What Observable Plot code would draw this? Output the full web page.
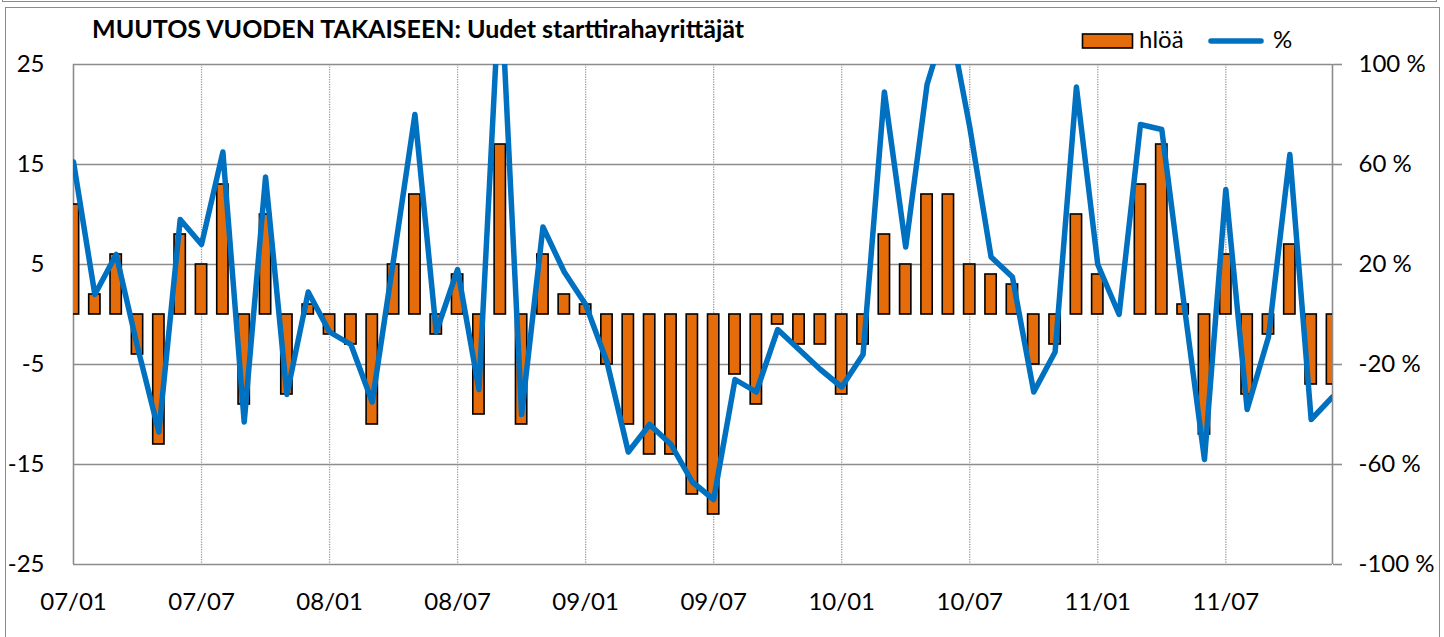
<!DOCTYPE html>
<html>
<head>
<meta charset="utf-8">
<script src="https://cdn.jsdelivr.net/npm/d3@7"></script>
<script src="https://cdn.jsdelivr.net/npm/@observablehq/plot@0.6"></script>
<style>
  html, body { margin: 0; padding: 0; background: #fff; }
  #wrap { position: relative; width: 1444px; height: 637px; overflow: hidden; background: #fff; font-family: Lato, "Open Sans", sans-serif; }
  #boxAbove { position: absolute; left: 2px; top: -12px; width: 1435px; height: 14px; border: 1px solid #8c8c8c; box-sizing: border-box; }
  #frame { position: absolute; left: 5px; top: 7px; width: 1435px; height: 660px; border: 1px solid #8c8c8c; box-sizing: border-box; }
  #chart { position: absolute; left: 0; top: 0; }
  #overlay { position: absolute; left: 0; top: 0; }
</style>
</head>
<body>
<div id="wrap">
  <div id="boxAbove"></div>
  <div id="frame"></div>
  <div id="chart"></div>
  <svg id="overlay" width="1444" height="80"></svg>
</div>
<script>
// ---- data ----
// monthly change vs. a year earlier, 2007/01 .. 2011/12
const hloa = [11, 2, 6, -4, -13, 8, 5, 13, -9, 10,
              -8, 1, -2, -3, -11, 5, 12, -2, 4, -10,
              17, -11, 6, 2, 1, -5, -11, -14, -14, -18,
              -20, -6, -9, -1, -3, -3, -8, -3, 8, 5,
              12, 12, 5, 4, 3, -5, -3, 10, 4, 0,
              13, 17, 1, -12, 6, -8, -2, 7, -7, -7];
const pct = [61, 8, 24, -13, -47, 38, 28, 65, -43, 55,
             -32, 9, -7, -12, -35, 22, 80, -7, 18, -30,
             136, -40, 35, 17, 4, -19, -55, -44, -52, -67,
             -74, -26, -31, -6, -14, -22, -29, -16, 89, 27,
             92, 120, 75, 23, 15, -31, -15, 91, 20, 0,
             76, 74, 7, -58, 50, -38, -9, 64, -42, -33];
const xTickLabels = ["07/01", "07/07", "08/01", "08/07", "09/01", "09/07", "10/01", "10/07", "11/01", "11/07"];
const leftTicks = [-25, -15, -5, 5, 15, 25];
const leftTickLabels = ["-25", "-15", "-5", "5", "15", "25"];
const rightTickLabels = ["-100 %", "-60 %", "-20 %", "20 %", "60 %", "100 %"];
const titleText = "MUUTOS VUODEN TAKAISEEN: Uudet starttirahayrittäjät";
const seriesNames = ["hlöä", "%"];

// ---- build table ----
const data = hloa.map((v, i) => ({i, hloa: v, pct: pct[i]}));
const xTicks = xTickLabels.map((_, k) => k * 6);
const pctToLeft = 25 / 100; // secondary axis: 100 % <-> 25

const ORANGE = "#E46C0A", BLUE = "#0070C0", GRID = "#8c8c8c";

const chart = Plot.plot({
  width: 1444,
  height: 637,
  marginLeft: 73,
  marginRight: 112,
  marginTop: 64,
  marginBottom: 73,
  style: {fontFamily: "Lato, sans-serif", fontSize: "24px", color: "#000", background: "transparent", overflow: "visible"},
  x: {type: "linear", domain: [0, hloa.length - 1], label: null},
  y: {domain: [-25, 25], label: null},
  marks: [
    Plot.gridX(xTicks.slice(1), {stroke: "#999", strokeOpacity: 1, strokeWidth: 1.3, strokeDasharray: "1.2,1.3"}),
    Plot.gridY(leftTicks, {stroke: GRID, strokeOpacity: 1, strokeWidth: 1.6}),
    Plot.ruleX([0, hloa.length - 1], {stroke: GRID, strokeWidth: 1.6}),
    Plot.rect(data, {
      x1: d => d.i - 0.265, x2: d => d.i + 0.265,
      y1: 0, y2: "hloa",
      fill: ORANGE, stroke: "#000", strokeWidth: 1.6, clip: true
    }),
    Plot.line(data, {x: "i", y: d => d.pct * pctToLeft, stroke: BLUE, strokeWidth: 5.5, clip: true}),
    Plot.axisY(leftTicks, {
      anchor: "left", label: null, tickSize: 0, tickPadding: 29, fontSize: 24,
      tickFormat: d => leftTickLabels[leftTicks.indexOf(d)]
    }),
    Plot.axisY(leftTicks, {
      anchor: "right", label: null, tickSize: 9, tickPadding: 17, fontSize: 24, stroke: GRID, strokeWidth: 1.6,
      tickFormat: d => rightTickLabels[leftTicks.indexOf(d)]
    }),
    Plot.axisX(xTicks, {
      anchor: "bottom", label: null, tickSize: 0, tickPadding: 28, fontSize: 24,
      tickFormat: d => xTickLabels[xTicks.indexOf(d)]
    })
  ]
});
document.getElementById("chart").appendChild(chart);

// ---- title and legend ----
const ov = d3.select("#overlay");
ov.append("text")
  .attr("x", 92).attr("y", 38)
  .attr("font-family", "Lato, sans-serif").attr("font-weight", "bold").attr("font-size", 25)
  .attr("fill", "#000")
  .text(titleText);
ov.append("rect")
  .attr("x", 1082.5).attr("y", 34).attr("width", 50).attr("height", 14)
  .attr("fill", ORANGE).attr("stroke", "#000").attr("stroke-width", 1.6);
ov.append("text")
  .attr("x", 1139).attr("y", 48)
  .attr("font-family", "Lato, sans-serif").attr("font-size", 24).attr("fill", "#000")
  .text(seriesNames[0]);
ov.append("line")
  .attr("x1", 1211).attr("x2", 1261).attr("y1", 41).attr("y2", 41)
  .attr("stroke", BLUE).attr("stroke-width", 5.5).attr("stroke-linecap", "round");
ov.append("text")
  .attr("x", 1273).attr("y", 48)
  .attr("font-family", "Lato, sans-serif").attr("font-size", 24).attr("fill", "#000")
  .text(seriesNames[1]);
</script>
</body>
</html>
